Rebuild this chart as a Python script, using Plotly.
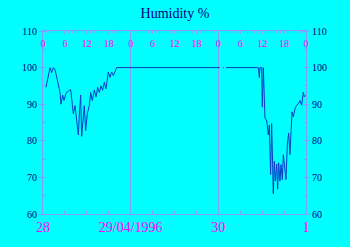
import plotly.graph_objects as go

# Hours since 28/04/1996 00:00 and relative humidity (%)
hours = [0.82, 1.92, 2.37, 2.83, 3.28, 3.74, 4.20, 4.65, 4.93, 5.38, 5.75, 6.30, 6.93,
         7.57, 7.85, 8.30, 8.76, 9.22, 9.67, 9.95, 10.31, 10.58, 11.04, 11.31, 11.68,
         12.14, 12.68, 13.05, 13.50, 14.05, 14.51, 14.97, 15.42, 15.88, 16.33, 16.79,
         17.25, 17.88, 18.34, 18.80, 19.25, 19.71, 20.17, 48.45, None,
         49.20, 49.45, None,
         50.10, 58.95, 59.22, 59.40, 59.86, 60.04, 60.32, 60.59, 60.77, 61.23, 61.68,
         61.96, 62.32, 62.60, 62.87, 63.05, 63.33, 63.60, 63.97, 64.24, 64.51, 64.88,
         65.15, 65.52, 65.79, 66.16, 66.52, 66.89, 67.25, 67.62, 67.89, 68.16, 68.53,
         68.98, 69.44, 69.90, 70.35, 70.81, 71.27, 71.54, 71.91]
humidity = [94.6, 100.0, 98.6, 100.0, 99.5, 97.3, 96.0, 93.3, 90.0, 92.5, 91.0, 93.0, 93.6,
            94.0, 91.6, 87.4, 89.6, 85.2, 81.6, 87.0, 92.5, 81.2, 86.4, 89.6, 82.8,
            87.4, 89.6, 93.2, 91.0, 93.9, 92.0, 94.6, 93.2, 95.0, 93.8, 96.0,
            94.2, 98.8, 97.3, 98.8, 97.8, 99.2, 100.0, 100.0, None,
            100.0, 100.0, None,
            100.0, 100.0, 97.3, 100.0, 100.0, 89.2, 100.0, 93.3, 86.1, 85.7, 81.6,
            84.3, 70.8, 84.7, 75.3, 65.5, 74.4, 69.0, 73.6, 66.8, 74.0, 69.0,
            73.5, 69.4, 76.2, 71.8, 69.4, 78.9, 82.1, 76.2, 83.5, 87.9, 86.5,
            88.8, 89.7, 90.1, 91.0, 89.7, 93.3, 92.0, 92.4]

day_ticks = [0, 24, 48, 72]
day_labels = ["28", "29/04/1996", "30", "1"]
hour_ticks = list(range(0, 73, 6))
hour_labels = [str(h % 24) for h in hour_ticks]
y_ticks = [60, 70, 80, 90, 100, 110]

BG = "#00ffff"
AXC = "#7f9fff"
NAVY = "#000080"
MAG = "#ff00ff"
SERIF = "Liberation Serif"

fig = go.Figure()
fig.add_trace(go.Scatter(x=hours, y=humidity, mode="lines",
                         line=dict(color="#0a3cc8", width=1),
                         connectgaps=False, showlegend=False, hoverinfo="skip"))
fig.add_trace(go.Scatter(x=[], y=[], xaxis="x2", yaxis="y2", showlegend=False,
                         hoverinfo="skip"))
fig.add_trace(go.Scatter(x=[], y=[], xaxis="x3", yaxis="y", showlegend=False,
                         hoverinfo="skip"))

fig.update_layout(
    width=350, height=247,
    margin=dict(l=43, r=44, t=31, b=30),
    paper_bgcolor=BG, plot_bgcolor=BG,
    title=dict(text="Humidity %", x=0.5, xanchor="center", y=0.945, yanchor="middle",
               font=dict(family=SERIF, size=14, color=NAVY)),
    xaxis=dict(range=[0, 72], tickvals=day_ticks, ticktext=day_labels,
               showline=True, linecolor=AXC, linewidth=1,
               showgrid=True, gridcolor=AXC, gridwidth=1, zeroline=False,
               ticks="inside", ticklen=4, tickcolor=AXC,
               minor=dict(dtick=6, tick0=0, ticks="inside", ticklen=3, tickcolor=AXC, showgrid=False),
               tickfont=dict(family=SERIF, size=14, color=MAG)),
    # top axis line with hour ticks
    xaxis2=dict(range=[0, 72], overlaying="x", side="top", anchor="y",
                tickvals=hour_ticks, showticklabels=False,
                showline=True, linecolor=AXC, linewidth=1, showgrid=False, zeroline=False,
                ticks="inside", ticklen=3, tickcolor=AXC,
                minor=dict(dtick=1, tick0=0, ticks="inside", ticklen=2, tickcolor=AXC)),
    # hour labels just below the top axis
    xaxis3=dict(range=[0, 72], overlaying="x", side="top", anchor="free", position=0.9,
                tickvals=hour_ticks, ticktext=hour_labels,
                showline=False, showgrid=False, zeroline=False, ticks="",
                tickfont=dict(family=SERIF, size=10, color=MAG)),
    yaxis=dict(range=[60, 110], tickvals=y_ticks,
               showline=True, linecolor=AXC, linewidth=1, showgrid=False, zeroline=False,
               ticks="outside", ticklen=3, tickcolor=AXC,
               minor=dict(dtick=5, tick0=60, ticks="inside", ticklen=3, tickcolor=AXC),
               tickfont=dict(family=SERIF, size=10, color=NAVY)),
    yaxis2=dict(range=[60, 110], tickvals=y_ticks, overlaying="y", side="right", anchor="x",
                showline=True, linecolor=AXC, linewidth=1, showgrid=False, zeroline=False,
                ticks="outside", ticklen=3, tickcolor=AXC,
                minor=dict(dtick=5, tick0=60, ticks="inside", ticklen=3, tickcolor=AXC),
                tickfont=dict(family=SERIF, size=10, color=NAVY)),
)

fig.write_html("out.html")
